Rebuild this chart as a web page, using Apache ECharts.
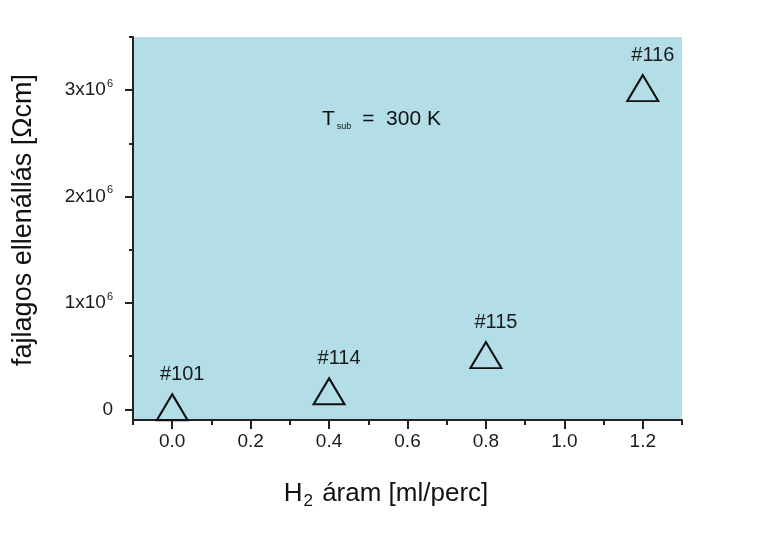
<!DOCTYPE html>
<html>
<head>
<meta charset="utf-8">
<script src="https://cdn.jsdelivr.net/npm/echarts@6/dist/echarts.min.js"></script>
<style>
html,body{margin:0;padding:0;background:#fff;}
#c{width:771px;height:539px;}
</style>
</head>
<body>
<div id="c"></div>
<script>
// Data
var sampleNames = ['#101', '#114', '#115', '#116'];
var h2Flow = [0.0, 0.4, 0.8, 1.2];
var resistivity = [20000, 170000, 510000, 3020000];
var xMajorTicks = [0.0, 0.2, 0.4, 0.6, 0.8, 1.0, 1.2];
var xMinorTicks = [-0.1, 0.1, 0.3, 0.5, 0.7, 0.9, 1.1, 1.3];
var yMajorTicks = [0, 1000000, 2000000, 3000000];
var yMinorTicks = [500000, 1500000, 2500000, 3500000];

var FONT = 'Liberation Sans, Arial, sans-serif';
var chart = echarts.init(document.getElementById('c'), null, {renderer: 'canvas'});

var points = h2Flow.map(function (x, i) { return {value: [x, resistivity[i]], name: sampleNames[i]}; });

var option = {
  backgroundColor: '#ffffff',
  animation: false,
  grid: {left: 133, top: 37, right: 89, bottom: 119, show: true, backgroundColor: '#b3dee7', borderWidth: 0},
  xAxis: [{
    type: 'value', min: -0.1, max: 1.3, position: 'bottom',
    axisLine: {show: true, onZero: false, lineStyle: {color: '#222', width: 2}},
    axisTick: {show: true, inside: false, length: 9, customValues: xMajorTicks, lineStyle: {color: '#222', width: 2}},
    axisLabel: {show: true, customValues: xMajorTicks, margin: 12, fontFamily: FONT, fontSize: 19, color: '#1a1a1a',
      formatter: function (v) { return v.toFixed(1); }},
    splitLine: {show: false}
  }, {
    type: 'value', min: -0.1, max: 1.3, position: 'bottom',
    axisLine: {show: false, onZero: false},
    axisTick: {show: true, inside: false, length: 5, customValues: xMinorTicks, lineStyle: {color: '#222', width: 2}},
    axisLabel: {show: false}, splitLine: {show: false}
  }],
  yAxis: [{
    type: 'value', min: -100000, max: 3500000, position: 'left',
    axisLine: {show: true, onZero: false, lineStyle: {color: '#222', width: 2}},
    axisTick: {show: true, inside: false, length: 8, customValues: yMajorTicks, lineStyle: {color: '#222', width: 2}},
    axisLabel: {show: true, customValues: yMajorTicks, margin: 20, fontFamily: FONT, fontSize: 19, color: '#1a1a1a',
      formatter: function (v) {
        if (v === 0) return '{b|0}';
        return '{b|' + Math.round(v / 1e6) + 'x10}{s|6}';
      },
      rich: {
        b: {fontFamily: FONT, fontSize: 19, color: '#1a1a1a'},
        s: {fontFamily: FONT, fontSize: 11, color: '#1a1a1a', padding: [0, 0, 13, 1]}
      }
    },
    splitLine: {show: false}
  }, {
    type: 'value', min: -100000, max: 3500000, position: 'left',
    axisLine: {show: false, onZero: false},
    axisTick: {show: true, inside: false, length: 4, customValues: yMinorTicks, lineStyle: {color: '#222', width: 2}},
    axisLabel: {show: false}, splitLine: {show: false}
  }],
  series: [{
    type: 'scatter',
    xAxisIndex: 0, yAxisIndex: 0,
    data: points,
    symbol: 'triangle',
    symbolSize: [31, 26],
    itemStyle: {color: 'rgba(0,0,0,0)', borderColor: '#111', borderWidth: 2, opacity: 1},
    label: {show: true, position: 'top', distance: 9, offset: [10, 0],
      formatter: function (p) { return p.name; },
      fontFamily: FONT, fontSize: 20, color: '#1a1a1a'},
    emphasis: {disabled: true}
  }],
  graphic: [{
    type: 'text', left: 322, top: 109,
    style: {
      text: '{t|T}{s|sub}{t| =  300 K}',
      rich: {
        t: {fontFamily: FONT, fontSize: 21, fill: '#111'},
        s: {fontFamily: FONT, fontSize: 9, fill: '#111', padding: [14, 5, 0, 2]}
      }
    }
  }, {
    type: 'text', x: 24, y: 220, rotation: Math.PI / 2,
    style: {
      text: 'fajlagos ellenállás [Ωcm]', align: 'center', verticalAlign: 'middle',
      font: '27px ' + FONT, fill: '#111'
    }
  }, {
    type: 'text', x: 386, y: 494,
    style: {
      text: '{m|H}{s|2}{m| áram [ml/perc]}', align: 'center', verticalAlign: 'middle',
      rich: {
        m: {fontFamily: FONT, fontSize: 26, fill: '#111'},
        s: {fontFamily: FONT, fontSize: 17, fill: '#111', padding: [15, 2, 0, 1]}
      }
    }
  }]
};
chart.setOption(option);
</script>
</body>
</html>
